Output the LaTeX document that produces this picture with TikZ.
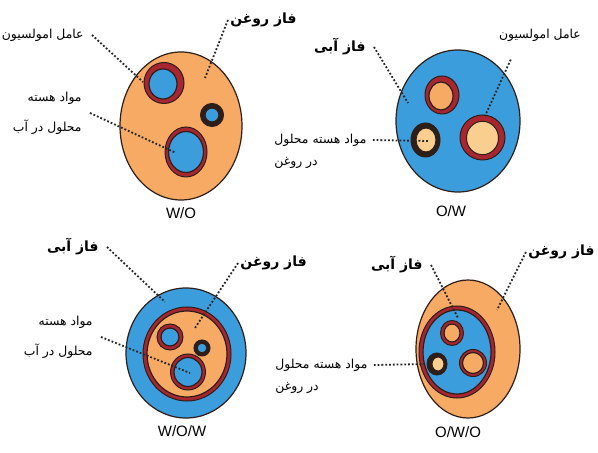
\documentclass[tikz,border=0pt]{standalone}
\usepackage{fontspec}
\setmainfont{Liberation Sans}
\newfontfamily\fafont[Script=Arabic]{DejaVu Sans}
\TeXXeTstate=1
\usetikzlibrary{positioning}
\definecolor{oil}{RGB}{247,170,100}
\definecolor{oillight}{RGB}{250,206,142}
\definecolor{water}{RGB}{60,157,220}
\definecolor{ringred}{RGB}{168,38,48}
\definecolor{edge}{RGB}{45,30,25}
\tikzset{
  oilbody/.style={fill=oil, draw=edge, line width=0.6pt},
  lightbody/.style={fill=oillight, draw=edge, line width=0.5pt},
  waterbody/.style={fill=water, draw=edge, line width=0.6pt},
  redring/.style={fill=ringred, draw=edge, line width=0.5pt},
  darkring/.style={fill=edge, draw=edge, line width=0.5pt},
  leader/.style={densely dotted, line width=0.9pt, black!85},
  falabel/.style={font=\fafont\fontsize{6.2}{15}\selectfont, inner sep=1pt},
  fahead/.style={font=\fafont\bfseries\fontsize{7}{10}\selectfont, inner sep=1pt},
  typelabel/.style={font=\fontsize{7.5}{9}\selectfont, inner sep=1pt}
}
\begin{document}
\begin{tikzpicture}[x=0.5pt, y=-0.5pt]
  \useasboundingbox (0,0) rectangle (598,453);
  \fill[white] (0,0) rectangle (598,453);

  % W/O
  \draw[oilbody] (181,126) ellipse [x radius=61, y radius=74];
  \draw[redring] (164,83) ellipse [x radius=20, y radius=20.5];
  \draw[waterbody] (163,84) ellipse [x radius=14, y radius=15];
  \draw[darkring] (212,115) ellipse [x radius=11.5, y radius=11.5];
  \draw[waterbody] (212,115) ellipse [x radius=7, y radius=7];
  \draw[redring] (186,152) ellipse [x radius=21, y radius=25];
  \draw[waterbody] (186,152) ellipse [x radius=17.5, y radius=20.5];
  \coordinate (woOilEnd) at (205,78);
  \coordinate (woEmulEnd) at (143,82);
  \coordinate (woCoreEnd) at (176,153);
  \node[fahead, anchor=east] (woOil) at (299,20) {\beginR فاز روغن\endR};
  \node[falabel, anchor=east] (woEmul) at (86,35) {\beginR عامل امولسیون\endR};
  \node[falabel, anchor=east, align=right] (woCore) at (84,113) {\beginR مواد هسته\endR\\\beginR محلول در آب\endR};
  \node[typelabel] (woName) at (181,213) {W/O};
  \draw[leader] (woOil.west) -- (woOilEnd);
  \draw[leader] ([xshift=3pt]woEmul.east) -- (woEmulEnd);
  \draw[leader] ([xshift=3pt]woCore.east) -- (woCoreEnd);

  % O/W
  \draw[waterbody] (458,121) ellipse [x radius=62, y radius=71];
  \draw[redring] (442,95) ellipse [x radius=17, y radius=19];
  \draw[oilbody] (441,96) ellipse [x radius=12, y radius=14];
  \draw[darkring] (425.5,140) ellipse [x radius=14.5, y radius=17];
  \draw[lightbody] (426,140) ellipse [x radius=10, y radius=12];
  \draw[redring] (482.5,137.5) ellipse [x radius=22.5, y radius=22.5];
  \draw[lightbody] (482.5,138) ellipse [x radius=16, y radius=16.7];
  \coordinate (owWaterEnd) at (408,103);
  \coordinate (owEmulEnd) at (485,116);
  \coordinate (owCoreEnd) at (428,141);
  \node[fahead, anchor=east] (owWater) at (368,47) {\beginR فاز آبی\endR};
  \node[falabel] (owEmul) at (540,35) {\beginR عامل امولسیون\endR};
  \node[falabel, anchor=west] (owCore) at (272,140) {\beginR مواد هسته محلول\endR};
  \node[falabel, below=3pt of owCore.south west, anchor=north west] (owCoreB) {\beginR در روغن\endR};
  \node[typelabel] (owName) at (451,211) {O/W};
  \draw[leader] ([xshift=3pt]owWater.east) -- (owWaterEnd);
  \draw[leader] (owEmul.south west) ++(14,16) -- (owEmulEnd);
  \draw[leader] ([xshift=2pt]owCore.east) -- (owCoreEnd);

  % W/O/W
  \draw[waterbody] (186,353) ellipse [x radius=60, y radius=65];
  \draw[redring] (187,354) ellipse [x radius=44, y radius=47];
  \draw[oilbody] (187,354) ellipse [x radius=40, y radius=43];
  \draw[redring] (170,337) ellipse [x radius=13, y radius=13];
  \draw[waterbody] (170,337) ellipse [x radius=9, y radius=9];
  \draw[darkring] (202,348) ellipse [x radius=8, y radius=8];
  \draw[waterbody] (202,348) ellipse [x radius=5, y radius=5];
  \draw[redring] (188,372) ellipse [x radius=17.5, y radius=18];
  \draw[waterbody] (188,372) ellipse [x radius=14, y radius=14.5];
  \coordinate (wowWaterEnd) at (165,302);
  \coordinate (wowOilEnd) at (195,328);
  \coordinate (wowCoreEnd) at (190,373);
  \node[fahead, anchor=east] (wowWater) at (101,247) {\beginR فاز آبی\endR};
  \node[fahead, anchor=west] (wowOil) at (238,263) {\beginR فاز روغن\endR};
  \node[falabel, anchor=east, align=right] (wowCore) at (95,337) {\beginR مواد هسته\endR\\\beginR محلول در آب\endR};
  \node[typelabel] (wowName) at (182,431) {W/O/W};
  \draw[leader] ([xshift=3pt]wowWater.east) -- (wowWaterEnd);
  \draw[leader] (wowOil.west) -- (wowOilEnd);
  \draw[leader] ([xshift=3pt]wowCore.east) -- (wowCoreEnd);

  % O/W/O
  \draw[oilbody] (468,349) ellipse [x radius=52, y radius=69];
  \draw[redring] (457,352) ellipse [x radius=38, y radius=46];
  \draw[waterbody] (457,352) ellipse [x radius=34, y radius=42];
  \draw[redring] (452,333) ellipse [x radius=11.5, y radius=12.5];
  \draw[oilbody] (452,333) ellipse [x radius=8, y radius=9];
  \draw[darkring] (437,364) ellipse [x radius=10, y radius=11];
  \draw[lightbody] (438,364) ellipse [x radius=6, y radius=7];
  \draw[redring] (473,363) ellipse [x radius=13.5, y radius=13.5];
  \draw[oilbody] (473,363) ellipse [x radius=10.5, y radius=10.5];
  \coordinate (owoWaterEnd) at (458,318);
  \coordinate (owoOilEnd) at (497,310);
  \coordinate (owoCoreEnd) at (428,364);
  \node[fahead, anchor=east] (owoWater) at (425,265) {\beginR فاز آبی\endR};
  \node[fahead, anchor=east] (owoOil) at (597,252) {\beginR فاز روغن\endR};
  \node[falabel, anchor=west] (owoCore) at (273,365) {\beginR مواد هسته محلول\endR};
  \node[falabel, below=3pt of owoCore.south west, anchor=north west] (owoCoreB) {\beginR در روغن\endR};
  \node[typelabel] (owoName) at (458,432) {O/W/O};
  \draw[leader] ([xshift=3pt]owoWater.east) -- (owoWaterEnd);
  \draw[leader] (owoOil.west) -- (owoOilEnd);
  \draw[leader] ([xshift=2pt]owoCore.east) -- (owoCoreEnd);
\end{tikzpicture}
\end{document}
